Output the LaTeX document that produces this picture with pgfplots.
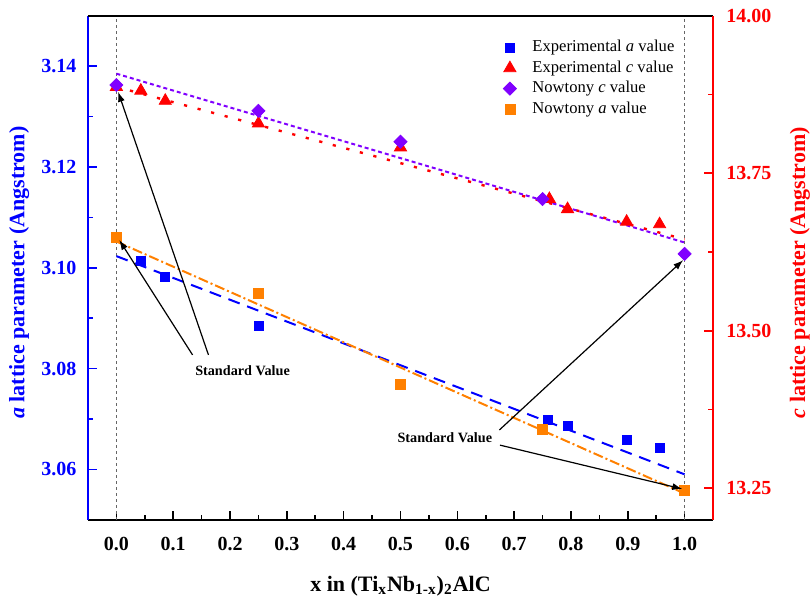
\documentclass[border=0pt]{standalone}
\usepackage{pgfplots}
\pgfplotsset{compat=1.18}
\usepackage{fontspec}
\setmainfont{Liberation Serif}
\usetikzlibrary{arrows.meta}
\definecolor{myblue}{RGB}{0,0,255}
\definecolor{myred}{RGB}{255,0,0}
\definecolor{mypurple}{RGB}{128,0,255}
\definecolor{myorange}{RGB}{255,128,0}
\begin{document}
\begin{tikzpicture}
\pgfplotsset{
  common/.style={
    scale only axis, width=312.5pt, height=252pt,
    xmin=-0.05, xmax=1.05,
    /pgf/number format/assume math mode=true,
    tick label style={font=\fontsize{10}{12}\selectfont\bfseries},
    label style={font=\fontsize{11}{13}\selectfont\bfseries},
    major tick length=4.5pt, minor tick length=2.5pt,
    clip=false,
  }
}
\begin{axis}[common,
  axis x line*=bottom, axis y line*=left,
  ymin=3.05, ymax=3.15,
  xtick={0,0.1,0.2,0.3,0.4,0.5,0.6,0.7,0.8,0.9,1.0},
  minor x tick num=1,
  ytick={3.06,3.08,3.10,3.12,3.14},
  minor y tick num=1,
  xticklabel style={/pgf/number format/fixed, /pgf/number format/fixed zerofill, /pgf/number format/precision=1, yshift=-5pt},
  yticklabel style={/pgf/number format/fixed, /pgf/number format/fixed zerofill, /pgf/number format/precision=2, xshift=-2.3pt, text=myblue},
  x axis line style={-, black, line width=1pt},
  y axis line style={-, myblue, line width=1pt},
  x tick style={black, line width=0.8pt},
  y tick style={myblue, line width=0.8pt},
  xlabel={x in (Ti\textsubscript{x}Nb\textsubscript{1-x})\textsubscript{2}AlC},
  xlabel style={at={(axis description cs:0.5,-0.142)}, anchor=base},
  ylabel={\textit{a} lattice parameter (Angstrom)},
  ylabel style={at={(axis description cs:-0.110,0.49)}, anchor=center, text=myblue},
]
\draw[gray!80!black, line width=0.5pt, dash pattern=on 1.5pt off 1.5pt] (axis cs:0,3.05) -- (axis cs:0,3.15);
\draw[gray!80!black, line width=0.5pt, dash pattern=on 1.5pt off 1.5pt] (axis cs:1,3.05) -- (axis cs:1,3.15);
% Experimental a
\addplot[only marks, mark=square*, mark size=2.25pt, myblue] coordinates {
  (0.043,3.1014) (0.086,3.0981) (0.25,3.0884) (0.760,3.0699) (0.794,3.0687) (0.898,3.0658) (0.956,3.0642)};
\addplot[myblue, line width=1pt, dash pattern=on 6pt off 4pt] coordinates {(0,3.1023) (1,3.0590)};
% Nowtony a
\addplot[only marks, mark=square*, mark size=2.5pt, myorange] coordinates {
  (0,3.1060) (0.25,3.0949) (0.5,3.0769) (0.75,3.0679) (1,3.0558)};
\addplot[myorange, line width=1pt, dash pattern=on 5pt off 1.5pt on 1pt off 1.5pt] coordinates {(0,3.1052) (1,3.0552)};
\coordinate (L1s) at (axis cs:0.134,3.0827);
\coordinate (L1e) at (axis cs:0.005,3.1055);
\coordinate (L2s) at (axis cs:0.162,3.0827);
\coordinate (L2e) at (axis cs:0.003,3.1349);
\coordinate (T1) at (axis cs:0.222,3.0796);
\coordinate (T2) at (axis cs:0.578,3.0662);
\coordinate (R1s) at (axis cs:0.674,3.0678);
\coordinate (R1e) at (axis cs:0.9975,3.1015);
\coordinate (R2s) at (axis cs:0.675,3.0648);
\coordinate (R2e) at (axis cs:0.996,3.0561);
\end{axis}
\begin{axis}[common,
  axis x line*=top, axis y line*=right,
  xtick=\empty,
  ymin=13.2, ymax=14.0,
  ytick={13.25,13.5,13.75,14},
  minor y tick num=1,
  yticklabel style={/pgf/number format/fixed, /pgf/number format/fixed zerofill, /pgf/number format/precision=2, xshift=3.2pt, text=myred},
  x axis line style={-, black, line width=1pt},
  y axis line style={-, myred, line width=1pt},
  y tick style={myred, line width=0.8pt},
  ylabel={\textit{c} lattice parameter (Angstrom)},
  ylabel style={at={(axis description cs:1.139,0.49)}, anchor=center, text=myred},
  legend style={at={(axis description cs:0.664,0.955)}, anchor=north west, draw=none, fill=none, inner sep=0pt, row sep=1.2pt,
    font=\fontsize{8.3}{10}\selectfont, nodes={inner sep=0.5pt, text height=6pt, text depth=2pt},
    /tikz/every odd column/.append style={column sep=7.5pt}},
  legend cell align=left,
]
\addlegendimage{only marks, mark=square*, mark size=2.25pt, myblue}
\addlegendentry{Experimental \textit{a} value}
\addplot[only marks, mark=triangle*, mark size=3.5pt, myred] coordinates {
  (0,13.887) (0.043,13.881) (0.086,13.865) (0.25,13.829) (0.5,13.791) (0.762,13.709) (0.794,13.693) (0.898,13.673) (0.956,13.669)};
\addlegendentry{Experimental \textit{c} value}
\addplot[only marks, mark=square*, mark size=2.3pt, mark options={rotate=45}, mypurple] coordinates {
  (0,13.890) (0.25,13.849) (0.5,13.800) (0.75,13.709) (1,13.622)};
\addlegendentry{Nowtony \textit{c} value}
\addlegendimage{only marks, mark=square*, mark size=2.5pt, myorange}
\addlegendentry{Nowtony \textit{a} value}
\addplot[forget plot, myred, line width=1.2pt, dash pattern=on 1.6pt off 5.4pt] coordinates {(0,13.887) (1,13.645)};
\addplot[forget plot, mypurple, line width=1pt, dash pattern=on 2pt off 1.5pt] coordinates {(0,13.908) (1,13.640)};
\end{axis}
\draw[-{Latex[length=5pt,width=3.5pt]}, line width=0.6pt] (L1s) -- (L1e);
\draw[-{Latex[length=5pt,width=3.5pt]}, line width=0.6pt] (L2s) -- (L2e);
\draw[-{Latex[length=5pt,width=3.5pt]}, line width=0.6pt] (R1s) -- (R1e);
\draw[-{Latex[length=5pt,width=3.5pt]}, line width=0.6pt] (R2s) -- (R2e);
\node[font=\fontsize{7.1}{8}\selectfont\bfseries] at (T1) {Standard Value};
\node[font=\fontsize{7.1}{8}\selectfont\bfseries] at (T2) {Standard Value};
\pgfresetboundingbox
\path (-44pt,-41pt) rectangle (361pt,259.85pt);
\end{tikzpicture}
\end{document}
